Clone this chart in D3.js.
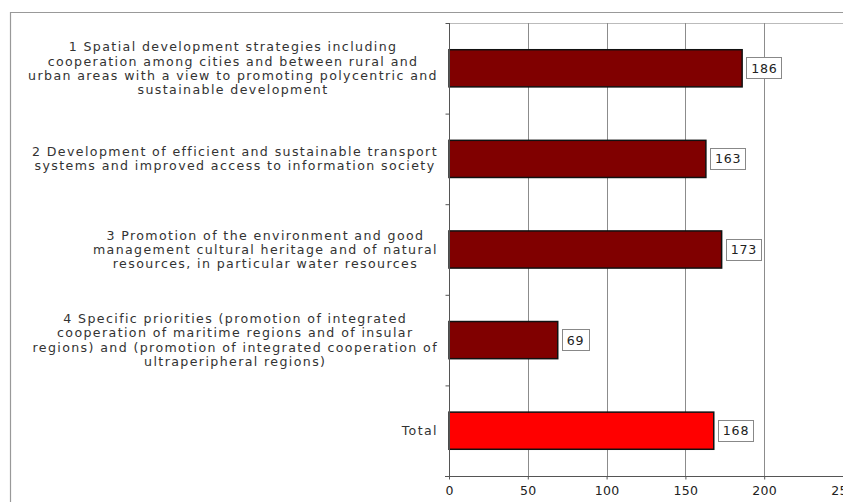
<!DOCTYPE html>
<html><head><meta charset="utf-8">
<script src="https://cdn.jsdelivr.net/npm/d3@7"></script>
<style>body{margin:0;background:#fff}svg{display:block}</style>
</head><body>
<svg id="c" width="843" height="502"></svg>
<script>
const categories = [
  ["1 Spatial development strategies including","cooperation among cities and between rural and","urban areas with a view to promoting polycentric and","sustainable development"],
  ["2 Development of efficient and sustainable transport","systems and improved access to information society"],
  ["3 Promotion of the environment and good","management cultural heritage and of natural","resources, in particular water resources"],
  ["4 Specific priorities (promotion of integrated","cooperation of maritime regions and of insular","regions) and (promotion of integrated cooperation of","ultraperipheral regions)"],
  ["Total"]
];
const values = [186, 163, 173, 69, 168];
const barColors = ["#800000","#800000","#800000","#800000","#ff0000"];
const xTicks = [0, 50, 100, 150, 200, 250];

const svg = d3.select("#c");
const L = 449, R = 843, T = 23, B = 476;
const x = d3.scaleLinear().domain([0, 250]).range([L, R]);
const y = d3.scaleBand().domain(d3.range(values.length)).range([T, B]).paddingInner(0.59).paddingOuter(0.295);
const yb = d3.scaleBand().domain(d3.range(values.length)).range([T, B]);

// outer frame
svg.append("line").attr("x1",10).attr("x2",843).attr("y1",12.5).attr("y2",12.5).attr("stroke","#999").attr("stroke-width",1.2);
svg.append("line").attr("x1",10.5).attr("x2",10.5).attr("y1",12).attr("y2",502).attr("stroke","#999").attr("stroke-width",1.2);

// plot top line
svg.append("line").attr("x1",L).attr("x2",R).attr("y1",T+0.5).attr("y2",T+0.5).attr("stroke","#bbb");

// gridlines
svg.append("g").selectAll("line").data(xTicks.filter(d=>d>0)).join("line")
  .attr("x1",d=>Math.round(x(d))+0.5).attr("x2",d=>Math.round(x(d))+0.5)
  .attr("y1",T).attr("y2",B).attr("stroke","#8c8c8c");

// bars
svg.append("g").selectAll("rect").data(values).join("rect")
  .attr("x",x(0)).attr("y",(d,i)=>y(i)).attr("width",d=>x(d)-x(0)).attr("height",y.bandwidth())
  .attr("fill",(d,i)=>barColors[i]).attr("stroke","#111").attr("stroke-width",1.5);

// y axis
const yAxis = d3.axisLeft(d3.scaleLinear().domain([0,5]).range([T,B])).ticks(5).tickSize(4).tickFormat("");
const ga = svg.append("g").attr("transform",`translate(${L+0.5},0)`).call(yAxis);
ga.selectAll("path,line").attr("stroke","#555");
ga.select(".domain").attr("d",`M0,${T}V${B}`);

// x axis
const xAxis = d3.axisBottom(x).tickValues(xTicks).tickSize(3).tickPadding(7);
const gx = svg.append("g").attr("transform",`translate(0,${B+0.5})`).call(xAxis);
gx.select(".domain").attr("d",`M${L-4},0H${R}`).attr("stroke","#555");
gx.selectAll("line").attr("stroke","#555");
gx.selectAll("text").attr("font-family","DejaVu Sans, Verdana, sans-serif").attr("font-size",12.5).attr("fill","#222").attr("letter-spacing",0.3);

// category labels
const lab = svg.append("g").attr("font-family","DejaVu Sans, Verdana, sans-serif").attr("font-size",12.6).attr("fill","#333").attr("letter-spacing",1.38);
const lh = 14.2;
categories.forEach((lines,i)=>{
  const g = lab.append("g");
  const cy = yb(i) + yb.bandwidth()/2;
  const texts = lines.map((t,j)=> g.append("text").text(t).attr("text-anchor","middle")
      .attr("y", cy + (j - (lines.length-1)/2)*lh).attr("dy","0.35em"));
  const maxW = d3.max(texts, t=>t.node().getComputedTextLength());
  texts.forEach(t=>t.attr("x", 438 - maxW/2));
});

// value labels
const vl = svg.append("g").attr("font-family","DejaVu Sans, Verdana, sans-serif").attr("font-size",12.6).attr("fill","#222").attr("letter-spacing",0.8);
values.forEach((v,i)=>{
  const cx = x(v) + 4;
  const cy = y(i) + y.bandwidth()/2;
  const t = vl.append("text").text(v).attr("x", cx+5).attr("y", cy).attr("dy","0.36em");
  const w = t.node().getComputedTextLength();
  vl.insert("rect","text").attr("x",Math.round(cx)+0.5).attr("y",Math.round(cy-11)+0.5).attr("width",Math.round(w+9)).attr("height",21)
    .attr("fill","#fff").attr("stroke","#888");
});
</script>
</body></html>
